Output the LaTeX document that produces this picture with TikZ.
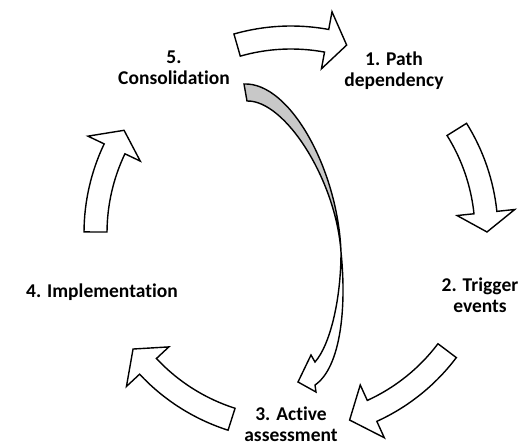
\documentclass[tikz,border=0pt]{standalone}
\usepackage{fontspec}
\setmainfont{Carlito}[Ligatures=NoCommon]
\definecolor{backgray}{RGB}{200,200,200}

\begin{document}
\begin{tikzpicture}[
  x=1pt, y=-1pt,
  phasetext/.style={font=\bfseries\fontsize{19.5}{21}\selectfont, align=center, inner sep=0pt},
  blockarrow/.style={draw=black, line width=1.4pt, fill=white, line join=miter},
  backarrow/.style={blockarrow, fill=backgray},
]
\useasboundingbox (0,0) rectangle (530,447);

\node[phasetext] (cons) at (174,68) {5.\\Consolidation};
\node[phasetext] (path) at (394,71) {1. Path\\dependency};
\node[phasetext] (trig) at (480,295) {2. Trigger\\events};
\node[phasetext] (assess) at (291,424) {3. Active\\assessment};
\node[phasetext] (impl) at (102,292) {4. Implementation};

% curved block arrows round the cycle
\coordinate (hub) at (291,233);
\begin{scope}[shift={(hub)}]
\foreach \tail/\base/\tip in {-106/-79.5/-73.5, -32/-6/-0.3, 37/65.5/72.6, 107.7/137/143.7, 180.3/205.5/211.6}{
  \draw[blockarrow] (\tail:207) arc[start angle=\tail, end angle=\base, radius=207]
    -- (\base:225) -- (\tip:196) -- (\base:167) -- (\base:184)
    arc[start angle=\base, end angle=\tail, radius=184] -- cycle;
}
\end{scope}

% long arrow from consolidation back to assessment
\coordinate (twist) at (341,252);
\draw[backarrow] (244,84) .. controls (290,82) and (338,170) .. (twist)
  .. controls (336,180) and (285,100) .. (247,101) -- cycle;
\draw[blockarrow] (twist) .. controls (341,300) and (330,345) .. (315,362)
  -- (311,355) -- (298,382) -- (316,392) -- (315,385)
  .. controls (340,368) and (347,310) .. (twist) -- cycle;
\end{tikzpicture}
\end{document}
